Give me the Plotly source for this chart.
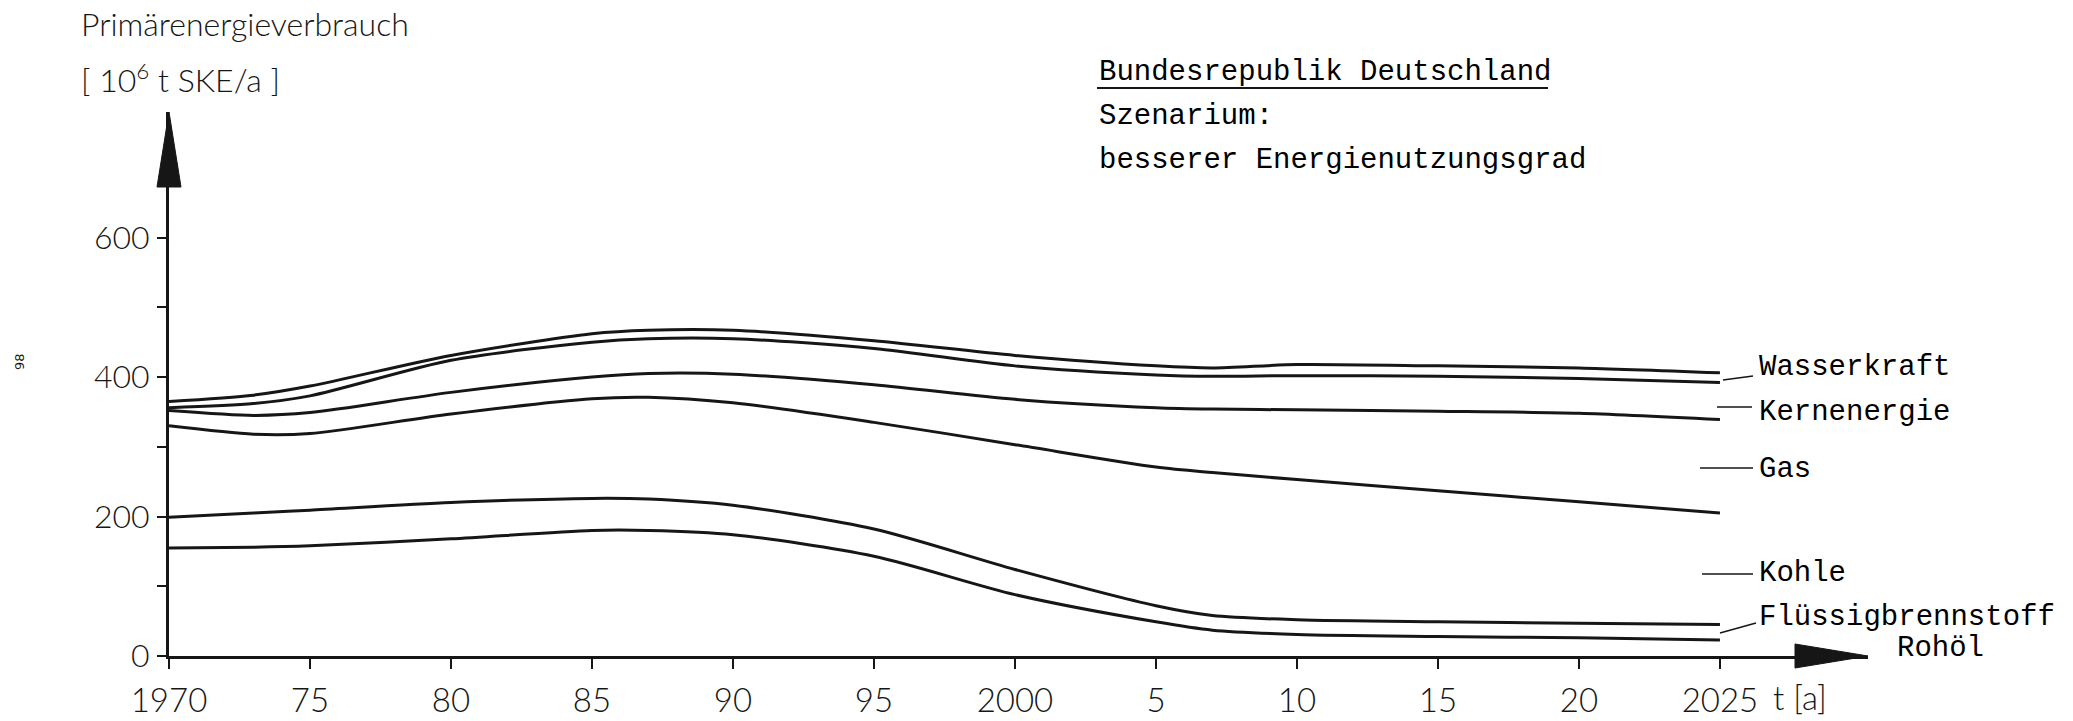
import numpy as np
import plotly.graph_objects as go

# ---------------- data ----------------
years = [1970, 1973, 1975, 1980, 1985, 1987, 1990, 1995, 2000, 2005, 2007, 2010, 2015, 2020, 2025]

# contribution of each energy carrier [10^6 t SKE/a] (stacked from the bottom)
rohoel = [155, 156, 158, 168, 180, 180, 174, 143, 88, 49, 37, 31, 28, 26, 23]
fluessigbrennstoff = [44, 49, 51, 52, 46, 45, 42, 39, 36, 23, 21, 21, 21, 21, 22]
kohle = [131, 113, 110, 127, 143, 146, 147, 153, 179, 199, 205, 201, 188, 174, 160]
gas = [22, 27, 30, 31, 31, 34, 41, 54, 65, 85, 91, 100, 114, 127, 134]
kernenergie = [4, 17, 24, 46, 50, 50, 51, 52, 48, 47, 47, 49, 50, 50, 53]
wasserkraft = [9, 12, 14, 7, 12, 12, 12, 11, 15, 13, 12, 16, 15, 15, 14]

series_names = ["Rohöl", "Flüssigbrennstoff", "Kohle", "Gas", "Kernenergie", "Wasserkraft"]

x_tickvals = [1970, 1975, 1980, 1985, 1990, 1995, 2000, 2005, 2010, 2015, 2020, 2025]
x_ticktext = ["1970", "75", "80", "85", "90", "95", "2000", "5", "10", "15", "20", "2025"]
y_tickvals = [0, 200, 400, 600]
y_ticktext = ["0", "200", "400", "600"]
y_minor_tickvals = [100, 300, 500]

# ---------------- figure ----------------
W, H = 2073, 721
ML, MR, MT, MB = 169, 205, 112, 65
X_RANGE = [1970, 2030.25]
Y_RANGE = [0, 780]
INK = "#161616"
LIGHT = "Lato, DejaVu Sans, sans-serif"
MONO = "Liberation Mono, DejaVu Sans Mono, monospace"


def px_x(px):
    return (px - ML) / (W - ML - MR)


def px_y(py):
    return (H - MB - py) / (H - MT - MB)


stack = np.cumsum(np.array([rohoel, fluessigbrennstoff, kohle, gas, kernenergie, wasserkraft], dtype=float), axis=0)

fig = go.Figure()
for name, row in zip(series_names, stack):
    fig.add_trace(go.Scatter(
        x=years, y=row, mode="lines", name=name,
        line=dict(shape="spline", smoothing=0.8, width=3, color=INK),
        hoverinfo="x+y+name",
    ))

annotations = []
shapes = []

# axis titles (top left)
annotations.append(dict(xref="paper", yref="paper", x=px_x(79), y=px_y(24), xanchor="left", yanchor="middle",
                        text="Primärenergieverbrauch", showarrow=False,
                        font=dict(family=LIGHT, size=32, weight=300, color=INK)))
annotations.append(dict(xref="paper", yref="paper", x=px_x(79), y=px_y(78), xanchor="left", yanchor="middle",
                        text="[&nbsp;10<sup>6</sup>&nbsp;t SKE/a&nbsp;]", showarrow=False,
                        font=dict(family=LIGHT, size=32, weight=300, color=INK)))

# scenario header
header = [("Bundesrepublik Deutschland", 73), ("Szenarium:", 117), ("besserer Energienutzungsgrad", 160)]
for txt, py in header:
    annotations.append(dict(xref="paper", yref="paper", x=px_x(1097), y=px_y(py), xanchor="left", yanchor="middle",
                            text=txt, showarrow=False, font=dict(family=MONO, size=29, color="#000000")))
shapes.append(dict(type="line", xref="paper", yref="paper", x0=px_x(1097), x1=px_x(1548),
                   y0=px_y(88), y1=px_y(88), line=dict(color=INK, width=2)))

# series labels on the right with leader lines
labels = [
    ("Wasserkraft", 1757, 367, (1723, 380, 1753, 376)),
    ("Kernenergie", 1757, 412, (1717, 407, 1752, 407)),
    ("Gas", 1757, 469, (1700, 468, 1753, 468)),
    ("Kohle", 1757, 573, (1702, 574, 1753, 574)),
    ("Flüssigbrennstoff", 1757, 617, (1720, 633, 1756, 623)),
    ("Rohöl", 1895, 648, None),
]
for txt, lx, ly, leader in labels:
    annotations.append(dict(xref="paper", yref="paper", x=px_x(lx), y=px_y(ly), xanchor="left", yanchor="middle",
                            text=txt, showarrow=False, font=dict(family=MONO, size=29, color="#000000")))
    if leader:
        x0, y0, x1, y1 = leader
        shapes.append(dict(type="line", xref="paper", yref="paper", x0=px_x(x0), y0=px_y(y0),
                           x1=px_x(x1), y1=px_y(y1), line=dict(color=INK, width=1.5)))

# x-axis unit
annotations.append(dict(xref="paper", yref="paper", x=px_x(1771), y=px_y(697), xanchor="left", yanchor="middle",
                        text="t [a]", showarrow=False, font=dict(family=LIGHT, size=33, weight=300, color=INK)))

# page number
annotations.append(dict(xref="paper", yref="paper", x=px_x(19), y=px_y(362), xanchor="center", yanchor="middle",
                        text="98", textangle=-90, showarrow=False,
                        font=dict(family="DejaVu Sans, sans-serif", size=13, color=INK)))

# arrowheads on the axes
shapes.append(dict(type="path", xref="paper", yref="paper", xsizemode="pixel", ysizemode="pixel",
                   xanchor=0, yanchor=1, path="M 0 0 L -12 -75 L 12 -75 Z",
                   fillcolor=INK, line=dict(color=INK, width=1)))
shapes.append(dict(type="path", xref="paper", yref="paper", xsizemode="pixel", ysizemode="pixel",
                   xanchor=1, yanchor=0, path="M 0 0 L -73 12 L -73 -12 Z",
                   fillcolor=INK, line=dict(color=INK, width=1)))

fig.update_layout(
    width=W, height=H,
    margin=dict(l=ML, r=MR, t=MT, b=MB, pad=0, autoexpand=False),
    paper_bgcolor="white", plot_bgcolor="white",
    showlegend=False,
    annotations=annotations,
    shapes=shapes,
    xaxis=dict(range=X_RANGE, showline=True, linewidth=3, linecolor=INK, mirror=False,
               automargin=False,
               ticks="outside", ticklen=10, tickwidth=2, tickcolor=INK,
               tickvals=x_tickvals, ticktext=x_ticktext, showgrid=False, zeroline=False,
               ticklabelstandoff=3,
               tickfont=dict(family=LIGHT, size=33, weight=300, color=INK)),
    yaxis=dict(range=Y_RANGE, showline=True, linewidth=3, linecolor=INK, mirror=False,
               automargin=False,
               ticks="outside", ticklen=9, tickwidth=2, tickcolor=INK,
               tickvals=y_tickvals, ticktext=y_ticktext, showgrid=False, zeroline=False,
               minor=dict(tickmode="array", tickvals=y_minor_tickvals, ticks="outside",
                          ticklen=9, tickwidth=2, tickcolor=INK, showgrid=False),
               ticklabelstandoff=1,
               tickfont=dict(family=LIGHT, size=32, weight=300, color=INK)),
)

fig.write_html("out.html")
